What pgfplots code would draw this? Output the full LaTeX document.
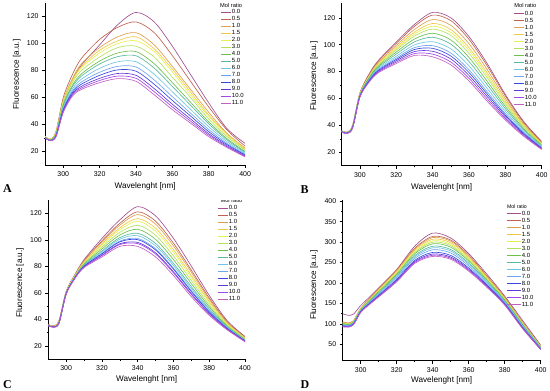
\documentclass[border=0pt]{standalone}
\usepackage{pgfplots}
\pgfplotsset{compat=1.18}
\usepackage{pgfplotstable}
\usepackage{fontspec}
\setmainfont{Liberation Sans}
\newfontfamily\letterfont{Liberation Serif}

\definecolor{c0}{HTML}{A0508F}
\definecolor{c1}{HTML}{C0604F}
\definecolor{c2}{HTML}{DDA050}
\definecolor{c3}{HTML}{F0C84A}
\definecolor{c4}{HTML}{E4F050}
\definecolor{c5}{HTML}{B4E060}
\definecolor{c6}{HTML}{6CC04C}
\definecolor{c7}{HTML}{58B8A0}
\definecolor{c8}{HTML}{70C4E4}
\definecolor{c9}{HTML}{6CA4F0}
\definecolor{c10}{HTML}{3848E0}
\definecolor{c11}{HTML}{6438D8}
\definecolor{c12}{HTML}{A048E8}
\definecolor{c13}{HTML}{C060C0}

\pgfplotstableread{
x s0 s1 s2 s3 s4 s5 s6 s7 s8 s9 s10 s11 s12 s13
290 31 31 31 31 31 31 30.5 30.4 30.3 30.2 30.2 30.1 30 30
293 29 29 29 29 29 29 28.5 28.4 28.3 28.2 28.2 28.1 28 28
296 34 35 34 34 34 33 33 32.7 32.3 32 31.7 31.4 31.2 31
300 56 60 58 57 57 56 54.5 53.7 52.6 51.6 50.9 50.1 49.5 49
305 73 77 74 73 72 71 69 67.9 66.3 64.8 63.7 62.6 61.8 61
310 84 89 85 83 82 80 77.5 75.9 73.6 71.5 69.9 68.3 67.1 66
320 99 103 97 95 93 90 87 84.8 81.6 78.7 76.4 74.2 72.6 71
330 114 112 105 102 100 97 93 90.3 86.5 83.1 80.5 77.8 75.9 74
340 123 116 108 105 102 98 94 90.9 86.5 82.6 79.5 76.4 74.2 72
350 116 108 99 96 94 90 85 81.8 77.2 73 69.8 66.6 64.3 62
360 98 91 83 81 79 75 71 68.2 64.2 60.6 57.8 55 53 51
370 77 72 66 64 62 60 56.5 54.3 51.2 48.4 46.3 44.1 42.5 41
380 56 53 49 47 46 44 42 40.5 38.3 36.3 34.7 33.2 32.1 31
390 37 36 33.5 33 32 31 29.5 28.6 27.3 26.1 25.2 24.3 23.6 23
400 26 24 22.5 22 21.5 21 20 19.4 18.6 17.9 17.4 16.8 16.4 16
}\tabA

\pgfplotstableread{
x s0 s1 s2 s3 s4 s5 s6 s7 s8 s9 s10 s11 s12 s13
290 36 35.9 35.8 35.8 35.7 35.6 35.5 35.4 35.3 35.3 35.2 35.1 35.1 35
293 35 34.9 34.8 34.8 34.7 34.6 34.5 34.4 34.3 34.3 34.2 34.1 34.1 34
296 40 39.9 39.7 39.5 39.4 39.3 39.1 38.9 38.7 38.5 38.4 38.3 38.1 38
300 64 63.8 63.5 63.3 63.1 62.9 62.6 62.3 62 61.8 61.6 61.4 61.2 61
305 78 77.6 77 76.5 76.1 75.8 75.2 74.6 74 73.5 73.1 72.8 72.4 72
310 88 87.5 86.6 85.8 85.2 84.6 83.8 83 82.1 81.3 80.7 80.1 79.5 79
320 102 101 99.4 98 97 96 94.5 93 91.4 90 89 88 87 86
330 115 113.6 111.3 109.3 107.9 106.4 104.2 102.1 99.8 97.8 96.4 94.9 93.4 92
340 124 122 118.7 115.8 113.8 111.6 108.5 105.5 102.2 99.3 97.3 95.1 93 91
350 120 117.9 114.4 111.3 109.1 106.9 103.5 100.4 96.9 93.8 91.6 89.4 87.1 85
360 106 104 100.7 97.8 95.8 93.6 90.5 87.5 84.2 81.3 79.3 77.1 75 73
370 86 84.3 81.5 79 77.3 75.5 72.8 70.3 67.5 65 63.3 61.5 59.7 58
380 63 61.9 60 58.3 57.1 55.9 54.1 52.4 50.5 48.8 47.6 46.4 45.1 44
390 43 42.3 41.2 40.3 39.6 38.9 37.8 36.8 35.7 34.8 34.1 33.4 32.7 32
400 28 27.6 27 26.5 26.1 25.8 25.2 24.6 24 23.5 23.1 22.8 22.4 22
}\tabB

\pgfplotstableread{
x s0 s1 s2 s3 s4 s5 s6 s7 s8 s9 s10 s11 s12 s13
290 36 35.9 35.8 35.7 35.6 35.5 35.4 35.3 35.3 35.2 35.2 35.1 35.1 35
293 35 34.9 34.8 34.7 34.6 34.5 34.4 34.3 34.3 34.2 34.2 34.1 34.1 34
296 39 38.7 38.6 38.4 38.3 38.1 37.9 37.7 37.5 37.4 37.3 37.2 37.1 37
300 61 60.7 60.6 60.4 60.3 60.1 59.9 59.7 59.5 59.4 59.3 59.2 59.1 59
305 74 73.6 73.4 73.1 72.9 72.6 72.3 72 71.8 71.6 71.5 71.3 71.2 71
310 85 84.2 83.8 83.2 82.8 82.2 81.6 81 80.6 80.2 80 79.6 79.4 79
320 101 99.2 98.2 96.8 95.8 94.4 93 91.6 90.8 89.8 89.4 88.4 88 87
330 115 112.4 111 109 107.6 105.6 103.6 101.6 100.4 99 98.4 97 96.4 95
340 125 121.1 119 116 113.9 110.9 107.9 104.9 103.1 101 100.1 98 97.1 95
350 118 114 111.8 108.7 106.5 103.4 100.3 97.2 95.4 93.2 92.3 90.1 89.2 87
360 101 97.4 95.4 92.6 90.6 87.8 85 82.2 80.6 78.6 77.8 75.8 75 73
370 80 77 75.4 73.1 71.5 69.2 66.9 64.6 63.2 61.6 60.9 59.3 58.6 57
380 58 56.1 55 53.5 52.4 50.9 49.4 47.9 47 46 45.5 44.5 44 43
390 39 38.1 37.6 36.9 36.4 35.7 35 34.3 33.9 33.4 33.2 32.7 32.5 32
400 27 26.5 26.2 25.8 25.5 25.1 24.7 24.3 24.1 23.8 23.7 23.4 23.3 23
}\tabC

\pgfplotstableread{
x s0 s1 s2 s3 s4 s5 s6 s7 s8 s9 s10 s11 s12 s13
290 125 105 104.3 103.3 102.4 101.5 100.6 99.1 98.2 97 95.4 94.4 93.7 93
293 121 102 101.4 100.6 99.8 99.1 98.3 97.1 96.3 95.3 94 93.2 92.6 92
296 124 108 107.4 106.6 105.8 105.1 104.3 103.1 102.3 101.3 100 99.2 98.6 98
300 145 138 137.4 136.6 135.8 135.1 134.3 133.1 132.3 131.3 130 129.2 128.6 128
305 166 162 161.2 160 158.9 157.9 156.8 155.1 154 152.6 150.8 149.7 148.8 148
310 188 186 184.8 183.2 181.6 180.2 178.6 176.2 174.6 172.6 170 168.4 167.2 166
320 233 232 230.3 227.9 225.6 223.6 221.3 217.8 215.5 212.6 208.8 206.5 204.7 203
330 290 285 282.8 279.8 276.9 274.3 271.3 266.9 263.9 260.2 255.4 252.4 250.2 248
340 322 314 311.1 307.1 303.2 299.8 295.9 290 286.1 281.2 274.8 270.9 267.9 265
350 310 305 302.2 298.4 294.7 291.4 287.6 282 278.2 273.5 267.4 263.6 260.8 258
360 272 268 265.7 262.5 259.4 256.7 253.6 248.9 245.8 241.9 236.8 233.7 231.3 229
370 222 218 216.3 214.1 211.8 209.9 207.6 204.3 202 199.2 195.6 193.4 191.7 190
380 168 165 163.9 162.3 160.8 159.5 158 155.7 154.2 152.3 149.8 148.3 147.1 146
390 108 104 103 101.8 100.5 99.4 98.1 96.2 94.9 93.3 91.2 89.9 89 88
400 48 46 45.5 44.7 44 43.4 42.7 41.6 40.9 40 38.8 38.1 37.5 37
}\tabD

\newcommand{\drawseries}[1]{%
\addplot[c0] table[x=x,y=s0]{#1}; \addlegendentry{0.0}
\addplot[c1] table[x=x,y=s1]{#1}; \addlegendentry{0.5}
\addplot[c2] table[x=x,y=s2]{#1}; \addlegendentry{1.0}
\addplot[c3] table[x=x,y=s3]{#1}; \addlegendentry{1.5}
\addplot[c4] table[x=x,y=s4]{#1}; \addlegendentry{2.0}
\addplot[c5] table[x=x,y=s5]{#1}; \addlegendentry{3.0}
\addplot[c6] table[x=x,y=s6]{#1}; \addlegendentry{4.0}
\addplot[c7] table[x=x,y=s7]{#1}; \addlegendentry{5.0}
\addplot[c8] table[x=x,y=s8]{#1}; \addlegendentry{6.0}
\addplot[c9] table[x=x,y=s9]{#1}; \addlegendentry{7.0}
\addplot[c10] table[x=x,y=s10]{#1}; \addlegendentry{8.0}
\addplot[c11] table[x=x,y=s11]{#1}; \addlegendentry{9.0}
\addplot[c12] table[x=x,y=s12]{#1}; \addlegendentry{10.0}
\addplot[c13] table[x=x,y=s13]{#1}; \addlegendentry{11.0}
}

\pgfplotsset{
  panel/.style={
    scale only axis,
    axis x line*=bottom, axis y line*=left,
    tick align=outside,
    xmin=290, xmax=400,
    xtick={300,320,...,400},
    minor x tick num=1, minor y tick num=1,
    major tick length=3bp, minor tick length=1.6bp,
    every tick/.style={black, line width=0.5bp},
    axis line style={line width=0.6bp, black},
    tick label style={font=\fontsize{7}{8}\selectfont},
    label style={font=\fontsize{8.2}{9}\selectfont},
    xlabel={Wavelenght [nm]},
    ylabel={Fluorescence [a.u.]},
    /pgf/number format/assume math mode=true,
    /pgf/number format/1000 sep={},
    every axis plot/.append style={line width=0.65bp, smooth, no marks},
    legend cell align=left,
    legend style={draw=none, fill=none, font=\fontsize{6}{6}\selectfont,
      inner sep=0pt, row sep=0pt,
      nodes={inner sep=0.6bp, text height=4.6bp, text depth=1.2bp},
      /tikz/every even column/.append style={column sep=1.5bp}},
  },
  limg/.style={legend image code/.code={\draw[##1] (0bp,0bp) -- (#1,0bp);}},
}

\begin{document}
\begin{tikzpicture}[x=1bp,y=1bp]
\path[use as bounding box] (0,0) rectangle (550,390);
\coordinate (pA) at (45.1,225);
\coordinate (pB) at (341.7,224.3);
\coordinate (pC) at (48.3,31);
\coordinate (pD) at (342.7,29.3);

% Panel A
\begin{axis}[panel, limg=10bp, at={(pA)}, anchor=south west,
  width=200bp, height=162bp, ymin=10, ymax=130, ytick={20,40,...,120},
  xlabel style={at={(axis description cs:0.5,-0.13)}, anchor=center},
  ylabel style={at={(axis description cs:-0.142,0.56)}, anchor=center},
  legend style={at={(rel axis cs:0.877,0.966)}, anchor=north west}]
\drawseries{\tabA}
\node[font=\fontsize{5.7}{6}\selectfont, anchor=center] at (rel axis cs:0.93,0.986) {Mol ratio};
\end{axis}

% Panel B
\begin{axis}[panel, limg=10bp, at={(pB)}, anchor=south west,
  width=200bp, height=162.7bp, ymin=10, ymax=131, ytick={20,40,...,120},
  xlabel style={at={(axis description cs:0.5,-0.133)}, anchor=center},
  ylabel style={at={(axis description cs:-0.139,0.55)}, anchor=center},
  legend style={at={(rel axis cs:0.859,0.958)}, anchor=north west}]
\drawseries{\tabB}
\node[font=\fontsize{5.7}{6}\selectfont, anchor=center] at (rel axis cs:0.918,0.982) {Mol ratio};
\end{axis}

% Panel C
\begin{axis}[panel, limg=10bp, at={(pC)}, anchor=south west,
  width=196.7bp, height=159bp, ymin=10, ymax=130, ytick={20,40,...,120},
  xlabel style={at={(axis description cs:0.5,-0.128)}, anchor=center},
  ylabel style={at={(axis description cs:-0.144,0.48)}, anchor=center},
  legend style={at={(rel axis cs:0.86,0.974)}, anchor=north west}]
\drawseries{\tabC}
\node[font=\fontsize{5.7}{6}\selectfont, anchor=center] at (rel axis cs:0.931,0.998) {Mol ratio};
\end{axis}

% Panel D
\begin{axis}[panel, limg=14bp, at={(pD)}, anchor=south west,
  width=198bp, height=160.7bp, ymin=10, ymax=403, ytick={50,100,...,400},
  xlabel style={at={(axis description cs:0.5,-0.124)}, anchor=center},
  ylabel style={at={(axis description cs:-0.145,0.47)}, anchor=center},
  legend style={at={(rel axis cs:0.827,0.939)}, anchor=north west}]
\drawseries{\tabD}
\node[font=\fontsize{5.2}{6}\selectfont, anchor=center] at (rel axis cs:0.88,0.958) {Mol ratio};
\end{axis}

\node[font=\letterfont\bfseries\fontsize{12}{12}\selectfont] at (7.5,201) {A};
\node[font=\letterfont\bfseries\fontsize{12}{12}\selectfont] at (304.5,200.5) {B};
\node[font=\letterfont\bfseries\fontsize{12}{12}\selectfont] at (7.5,5.5) {C};
\node[font=\letterfont\bfseries\fontsize{12}{12}\selectfont] at (305,5.5) {D};
\end{tikzpicture}
\end{document}
